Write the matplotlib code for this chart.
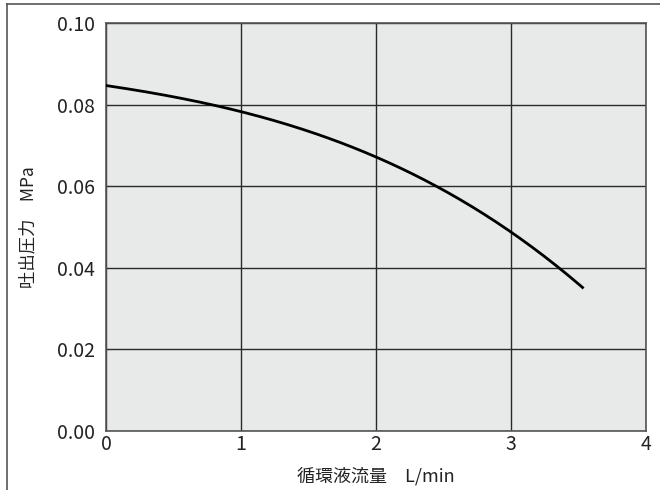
import matplotlib
matplotlib.use("Agg")
import matplotlib.pyplot as plt
from matplotlib.lines import Line2D
import numpy as np

flow = [0.0, 0.25, 0.5, 0.75, 1.0, 1.5, 2.0, 2.5, 3.0, 3.36, 3.53]
pressure = [0.0843, 0.0836, 0.0825, 0.0801, 0.0781, 0.0731, 0.0672, 0.0592, 0.0488, 0.0400, 0.0350]
xticks = [0, 1, 2, 3, 4]
yticks = [0.00, 0.02, 0.04, 0.06, 0.08, 0.10]
ytick_labels = ["0.00", "0.02", "0.04", "0.06", "0.08", "0.10"]

plt.rcParams['font.family'] = ['Noto Sans CJK JP', 'DejaVu Sans']

fig = plt.figure(figsize=(6.6, 4.9), dpi=100)
ax = fig.add_axes([106/660, 59/490, 540/660, 408/490])
ax.set_facecolor('#e8e9e9')

coef = np.polyfit(flow, pressure, 3)
xs = np.linspace(flow[0], flow[-1], 200)
ax.plot(xs, np.polyval(coef, xs), color='black', lw=2.0, zorder=3)

ax.set_xlim(0, 4)
ax.set_ylim(0, 0.10)
ax.set_xticks(xticks)
ax.set_xticklabels([str(t) for t in xticks])
ax.set_yticks(yticks)
ax.set_yticklabels(ytick_labels)
ax.grid(True, color='#2a2a2a', lw=1.0)
ax.set_axisbelow(True)
for s in ax.spines.values():
    s.set_color('#555555')
    s.set_linewidth(1.2)
ax.tick_params(length=0, labelsize=14, colors='#222222')
ax.tick_params(axis='x', pad=2)
ax.tick_params(axis='y', pad=8)

ax.set_xlabel('循環液流量\u3000L/min', fontsize=13, color='#222222', labelpad=9)
ax.set_ylabel('吐出圧力\u3000MPa', fontsize=12.5, color='#222222', labelpad=14)

fig.add_artist(Line2D([7/660, 7/660], [0, 1 - 4/490], color='#555555', lw=1.2, transform=fig.transFigure))
fig.add_artist(Line2D([7/660, 1], [1 - 4/490, 1 - 4/490], color='#555555', lw=1.2, transform=fig.transFigure))

fig.savefig('out.png', dpi=100)
